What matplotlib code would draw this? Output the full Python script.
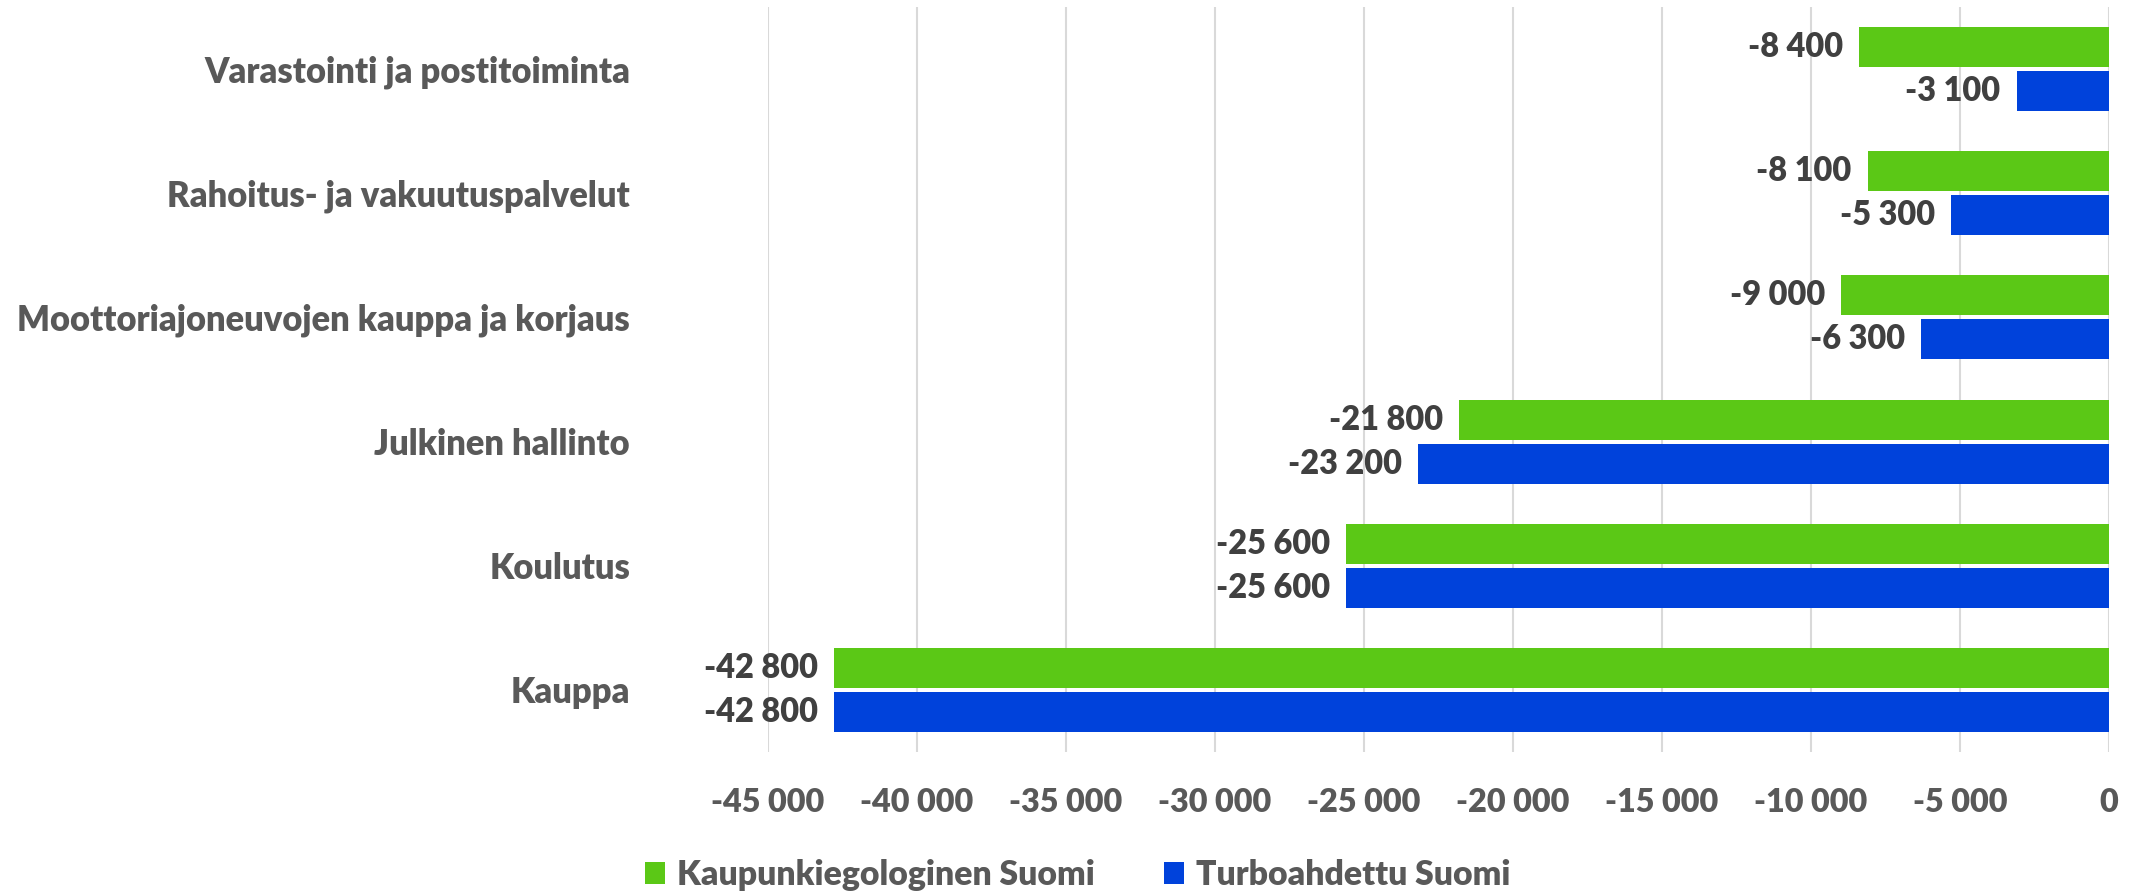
import matplotlib
matplotlib.use("Agg")
import matplotlib.pyplot as plt
from matplotlib.ticker import FuncFormatter, MultipleLocator
from matplotlib.patches import Patch
import numpy as np

# ---- data ----
categories = ["Kauppa", "Koulutus", "Julkinen hallinto",
              "Moottoriajoneuvojen kauppa ja korjaus",
              "Rahoitus- ja vakuutuspalvelut", "Varastointi ja postitoiminta"]
series_names = ["Kaupunkiegologinen Suomi", "Turboahdettu Suomi"]
green_values = [-42800, -25600, -21800, -9000, -8100, -8400]
blue_values = [-42800, -25600, -23200, -6300, -5300, -3100]
x_min, x_max, x_step = -45000, 0, 5000

# ---- style ----
FONT = ["Lato", "DejaVu Sans"]
WEIGHT = "heavy"
GREEN = "#5BC816"
BLUE = "#0042DB"
GRAY = "#595959"
DARK = "#404040"
GRID = "#D9D9D9"

W, H, DPI = 2133, 893, 100
fig = plt.figure(figsize=(W / DPI, H / DPI), dpi=DPI)
renderer = fig.canvas.get_renderer()


def fit_size(text, target_px, weight=WEIGHT):
    t = fig.text(0, 0, text, fontsize=20, fontweight=weight, family=FONT)
    w = t.get_window_extent(renderer).width
    t.remove()
    return 20 * target_px / w


def px2pt(px):
    return px * 72 / DPI


fmt = lambda v: f"{v:,.0f}".replace(",", " ")

cat_size = fit_size("Moottoriajoneuvojen kauppa ja korjaus", 614)
tick_size = fit_size("-45 000", 113)
val_size = fit_size("-42 800", 114)
leg_size = fit_size("Kaupunkiegologinen Suomi", 419)

ax = fig.add_axes([768 / W, 1 - 752 / H, (2109 - 768) / W, (752 - 7) / H])

y = np.arange(len(categories))
bh = 0.322
off = 0.177
b1 = ax.barh(y + off, green_values, height=bh, color=GREEN, zorder=3,
             label=series_names[0])
b2 = ax.barh(y - off, blue_values, height=bh, color=BLUE, zorder=3,
             label=series_names[1])

for bars, vals in ((b1, green_values), (b2, blue_values)):
    for rect, v in zip(bars, vals):
        ax.annotate(fmt(v), xy=(v, rect.get_y() + rect.get_height() / 2),
                    xytext=(-px2pt(16), 0), textcoords="offset points",
                    ha="right", va="center", fontsize=val_size,
                    fontweight=WEIGHT, color=DARK, family=FONT)

ax.set_xlim(x_min, x_max)
ax.set_ylim(-0.5, len(categories) - 0.5)
ax.xaxis.set_major_locator(MultipleLocator(x_step))
ax.xaxis.set_major_formatter(FuncFormatter(lambda v, p: fmt(v)))
ax.set_yticks(y)
ax.set_yticklabels(categories)

for s in ax.spines.values():
    s.set_visible(False)
ax.grid(axis="x", color=GRID, linewidth=1.5, zorder=0)
ax.set_axisbelow(True)

ax.tick_params(axis="x", length=0, pad=px2pt(36), labelsize=tick_size,
               labelcolor=GRAY)
ax.tick_params(axis="y", length=0, pad=px2pt(138), labelsize=cat_size,
               labelcolor=GRAY)
for lab in ax.get_xticklabels() + ax.get_yticklabels():
    lab.set_fontweight(WEIGHT)
    lab.set_family(FONT)

handles = [Patch(facecolor=GREEN), Patch(facecolor=BLUE)]
leg_px = leg_size * DPI / 72
leg = fig.legend(handles, series_names, loc="center",
                 bbox_to_anchor=(1078 / W, 1 - 875 / H), ncol=2, frameon=False,
                 prop={"family": FONT, "weight": WEIGHT, "size": leg_size},
                 handlelength=20 / leg_px, handleheight=20 / leg_px,
                 handletextpad=12 / leg_px, columnspacing=69 / leg_px,
                 borderpad=0, borderaxespad=0)
for t in leg.get_texts():
    t.set_color(GRAY)

fig.savefig("out.png", dpi=DPI)
